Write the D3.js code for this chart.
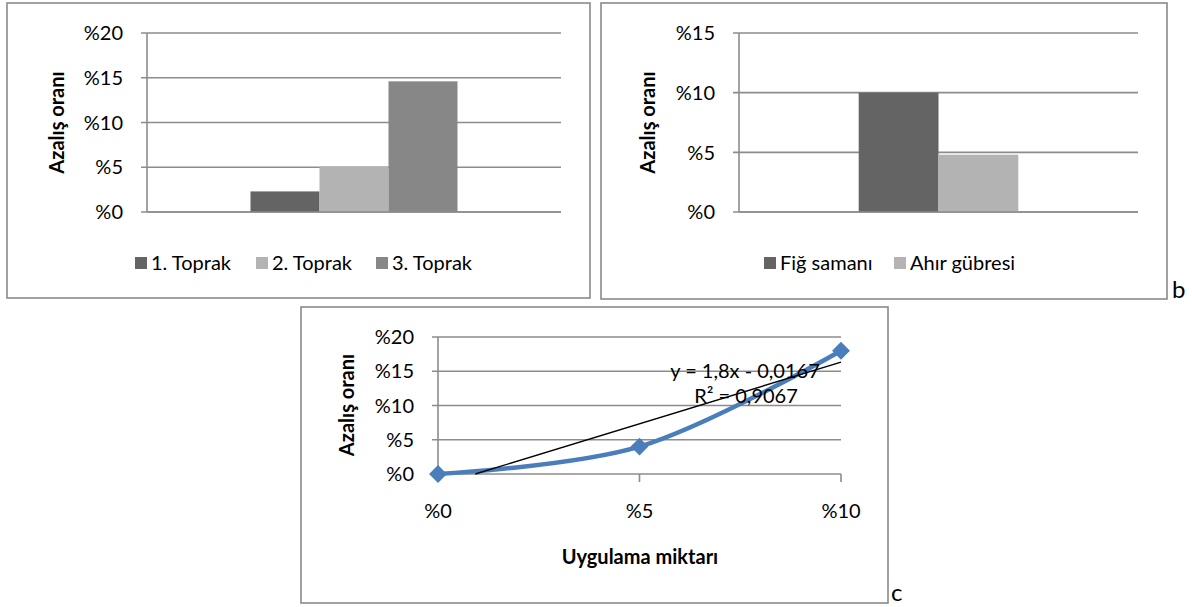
<!DOCTYPE html>
<html>
<head>
<meta charset="utf-8">
<script src="https://cdn.jsdelivr.net/npm/d3@7"></script>
<style>
  html, body { margin: 0; padding: 0; background: #fff; }
  svg text { font-family: Lato, "Open Sans", sans-serif; fill: #000; }
</style>
</head>
<body>
<svg id="chart" width="1192" height="607"></svg>
<script>
// ---------- data ----------
const soilSeries = ["1. Toprak", "2. Toprak", "3. Toprak"];
const soilValues = [0.023, 0.051, 0.146];
const soilTicks = [0, 0.05, 0.10, 0.15, 0.20];

const amendSeries = ["Fiğ samanı", "Ahır gübresi"];
const amendValues = [0.100, 0.048];
const amendTicks = [0, 0.05, 0.10, 0.15];

const doseLabels = ["%0", "%5", "%10"];
const doseX = [0, 0.05, 0.10];
const doseY = [0, 0.04, 0.18];
const doseTicks = [0, 0.05, 0.10, 0.15, 0.20];
const trendLabel = ["y = 1,8x - 0,0167", "R² = 0,9067"];

const yTitle = "Azalış oranı";
const xTitle = "Uygulama miktarı";

const barColors = ["#646464", "#b3b3b3", "#878787"];
const gridColor = "#8c8c8c";
const fontSize = 20;

const pct = v => "%" + Math.round(v * 100);

const svg = d3.select("#chart");
svg.append("rect").attr("width", 1192).attr("height", 607).attr("fill", "#fff");

function frame(x, y, w, h) {
  svg.append("rect").attr("x", x).attr("y", y).attr("width", w).attr("height", h)
    .attr("fill", "none").attr("stroke", "#8a8a8a").attr("stroke-width", 1.6);
}

function yAxisGrid(g, y, ticks, x0, x1) {
  g.selectAll("line.grid").data(ticks).join("line").attr("class", "grid")
    .attr("x1", x0 - 6).attr("x2", x1)
    .attr("y1", d => y(d)).attr("y2", d => y(d))
    .attr("stroke", gridColor).attr("stroke-width", 1.6);
  g.append("line").attr("x1", x0).attr("x2", x0)
    .attr("y1", y(ticks[0])).attr("y2", y(ticks[ticks.length - 1]))
    .attr("stroke", gridColor).attr("stroke-width", 1.6);
  g.selectAll("text.tick").data(ticks).join("text").attr("class", "tick")
    .attr("x", x0 - 24).attr("y", d => y(d)).attr("dy", "0.36em")
    .attr("text-anchor", "end").attr("font-size", fontSize)
    .text(pct);
}

function rotTitle(g, cx, cy) {
  g.append("text").attr("transform", `translate(${cx},${cy}) rotate(-90)`)
    .attr("text-anchor", "middle").attr("dy", "0.35em")
    .attr("font-size", fontSize).attr("font-weight", "bold").text(yTitle);
}

function barPanel(series, values, ticks, x0, x1, yTop, yBot, outerPad, titleX, legend) {
  const g = svg.append("g");
  const y = d3.scaleLinear().domain([0, ticks[ticks.length - 1]]).range([yBot, yTop]);
  yAxisGrid(g, y, ticks, x0, x1);
  const xg = d3.scaleBand().domain(["g"]).range([x0, x1]).paddingInner(0).paddingOuter(outerPad);
  const xs = d3.scaleBand().domain(series).range([0, xg.bandwidth()]);
  g.selectAll("rect.bar").data(series).join("rect").attr("class", "bar")
    .attr("x", d => xg("g") + xs(d)).attr("width", xs.bandwidth())
    .attr("y", (d, i) => y(values[i])).attr("height", (d, i) => y(0) - y(values[i]))
    .attr("fill", (d, i) => barColors[i]);
  g.append("line").attr("x1", x0).attr("x2", x1).attr("y1", y(0)).attr("y2", y(0))
    .attr("stroke", gridColor).attr("stroke-width", 1.6);
  rotTitle(g, titleX, (yTop + yBot) / 2);
  const lg = g.append("g");
  series.forEach((s, i) => {
    lg.append("rect").attr("x", legend[i]).attr("y", 257).attr("width", 12).attr("height", 12)
      .attr("fill", barColors[i]);
    lg.append("text").attr("x", legend[i] + 16).attr("y", 263).attr("dy", "0.36em")
      .attr("font-size", fontSize).text(s);
  });
}

frame(7, 3, 583, 295);
barPanel(soilSeries, soilValues, soilTicks, 147, 561, 33, 212, 0.5, 57, [135, 256, 376]);
svg.append("text").attr("x", 1172).attr("y", 298).attr("font-size", 24).text("b");

frame(601, 3, 566, 296);
barPanel(amendSeries, amendValues, amendTicks, 739, 1138, 33, 212, 0.75, 648, [764, 894]);

// ---------- line panel ----------
frame(301, 307, 587, 296);
{
  const g = svg.append("g");
  const x = d3.scaleLinear().domain([doseX[0], doseX[doseX.length - 1]]).range([438, 841]);
  const y = d3.scaleLinear().domain([0, doseTicks[doseTicks.length - 1]]).range([474, 337]);
  yAxisGrid(g, y, doseTicks, 438, 841);
  g.selectAll("line.xt").data(doseX).join("line").attr("class", "xt")
    .attr("x1", d => x(d)).attr("x2", d => x(d)).attr("y1", 474).attr("y2", 482)
    .attr("stroke", gridColor).attr("stroke-width", 1.6);
  g.selectAll("text.xl").data(doseX).join("text").attr("class", "xl")
    .attr("x", d => x(d)).attr("y", 511).attr("dy", "0.36em")
    .attr("text-anchor", "middle").attr("font-size", fontSize)
    .text((d, i) => doseLabels[i]);
  g.append("text").attr("x", 640).attr("y", 557).attr("dy", "0.36em")
    .attr("text-anchor", "middle").attr("font-size", fontSize).attr("font-weight", "bold")
    .text(xTitle);
  rotTitle(g, 347, 405);

  const pts = doseX.map((d, i) => [d, doseY[i]]);
  const line = d3.line().x(d => x(d[0])).y(d => y(d[1])).curve(d3.curveCatmullRom.alpha(0.5));
  g.append("path").attr("d", line(pts)).attr("fill", "none")
    .attr("stroke", "#4a7ebb").attr("stroke-width", 4.5).attr("stroke-linejoin", "round");

  // linear trendline (least squares from data), clipped at y = 0
  const mx = d3.mean(doseX), my = d3.mean(doseY);
  const slope = d3.sum(doseX.map((d, i) => (d - mx) * (doseY[i] - my))) / d3.sum(doseX.map(d => (d - mx) ** 2));
  const icpt = my - slope * mx;
  const xStart = Math.max(doseX[0], -icpt / slope);
  const xEnd = doseX[doseX.length - 1];
  g.append("line").attr("x1", x(xStart)).attr("y1", y(slope * xStart + icpt))
    .attr("x2", x(xEnd)).attr("y2", y(slope * xEnd + icpt))
    .attr("stroke", "#000").attr("stroke-width", 1.4);

  g.selectAll("path.mk").data(pts).join("path").attr("class", "mk")
    .attr("d", d3.symbol(d3.symbolSquare, 160))
    .attr("transform", d => `translate(${x(d[0])},${y(d[1])}) rotate(45)`)
    .attr("fill", "#4a7ebb");

  g.append("text").attr("x", 745).attr("y", 371).attr("dy", "0.36em")
    .attr("text-anchor", "middle").attr("font-size", fontSize).text(trendLabel[0]);
  g.append("text").attr("x", 746).attr("y", 396).attr("dy", "0.36em")
    .attr("text-anchor", "middle").attr("font-size", fontSize).text(trendLabel[1]);
}
svg.append("text").attr("x", 891).attr("y", 601).attr("font-size", 24).text("c");
</script>
</body>
</html>
